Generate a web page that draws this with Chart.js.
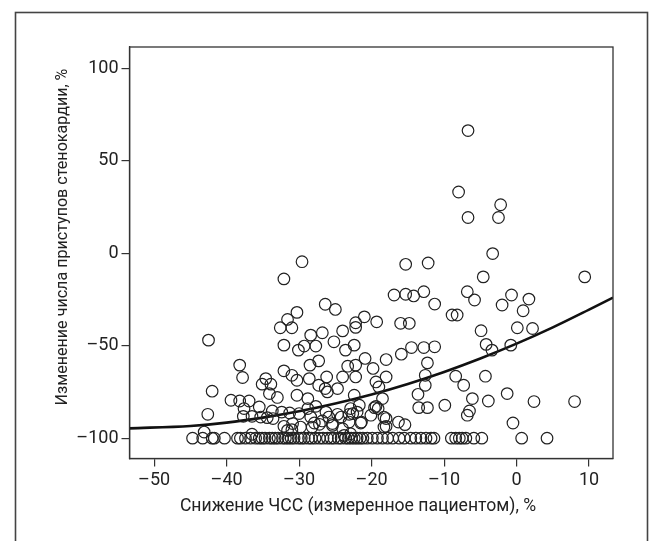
<!DOCTYPE html>
<html>
<head>
<meta charset="utf-8">
<script src="https://cdn.jsdelivr.net/npm/chart.js@4/dist/chart.umd.min.js"></script>
<style>
    body { margin: 0; background: #fff; }
    canvas { display: block; }
</style>
</head>
<body>
<canvas id="hrChart" width="665" height="541"></canvas>
<script>
// tick labels
const xTicks = [-50, -40, -30, -20, -10, 0, 10];
const yTicks = [-100, -50, 0, 50, 100];

const xTitle = "Снижение ЧСС (измеренное пациентом), %";
const yTitle = "Изменение числа приступов стенокардии, %";

// patients above the floor (change in angina attacks > -100 %)
const pointX = [
    -6.7, -8.0, -2.2, -6.7, -2.5, -3.3, -15.3, -12.2, -4.6, 9.4,
    -16.9, -15.3, -14.2, -12.8, -6.8, -5.8, -0.7, 1.7, -11.3, -2.0,
    0.9, -8.9, -8.2, -21.0, -22.2, -22.2, -19.3, -16.0, -14.8, -4.9,
    0.1, 2.2, -22.4, -14.5, -12.8, -11.3, -15.9, -4.2, -3.4, -0.8,
    -20.9, -18.0, -22.2, -12.3, -19.8, -22.2, -18.0, -12.6, -8.4, -4.3,
    -19.4, -7.3, -12.6, -19.0, -13.6, -1.3, -22.4, -18.5, -6.1, -3.9,
    2.4, 8.0, -21.7, -19.4, -19.1, -19.6, -13.5, -12.3, -9.9, -6.5,
    -6.8, -22.6, -20.1, -18.0, -21.5, -16.3, -15.4, -18.0, -0.5,
    -29.6, -32.1, -26.4, -25.0, -30.3, -31.6, -32.6, -31.0, -24.0, -26.8,
    -28.4, -42.5, -25.2, -32.1, -27.7, -29.3, -30.1, -23.6, -27.3, -28.5,
    -23.3, -38.2, -37.8, -32.1, -31.0, -30.3, -34.6, -33.9, -35.1, -28.6,
    -27.3, -26.2, -26.4, -26.1, -24.7, -24.0, -34.1, -33.0, -30.3, -28.8,
    -42.0, -39.4, -38.2, -36.9, -37.6, -37.7, -35.5, -42.6, -36.5, -35.3,
    -33.7, -32.4, -33.6, -34.4, -31.3, -30.0, -28.8, -27.7, -26.3, -28.4,
    -26.8, -25.4, -30.9, -31.0, -31.6, -32.1, -29.8, -27.9, -43.1, -36.5,
    -22.9, -23.1, -23.1, -24.2, -23.8,
    -24.7, -25.9, -22.0, -21.4, -18.3, -18.3, -27.2, -25.4, -24.0, -22.9, -28.2
];
const pointY = [
    66.3, 33.1, 26.2, 19.3, 19.3, -0.2, -6.0, -5.3, -12.8, -12.8,
    -22.6, -22.2, -23.1, -20.8, -20.8, -25.3, -22.6, -24.8, -27.5, -28.0,
    -31.1, -33.4, -33.4, -34.4, -37.6, -40.1, -37.1, -37.9, -37.9, -41.9,
    -40.3, -40.7, -49.7, -51.0, -51.0, -50.6, -54.6, -49.3, -52.4, -49.7,
    -56.9, -57.5, -60.5, -59.3, -62.3, -66.9, -66.9, -66.0, -66.5, -66.5,
    -69.6, -71.4, -71.4, -72.3, -76.3, -75.9, -76.8, -78.6, -78.6, -79.9,
    -80.2, -80.2, -82.2, -82.8, -84.0, -83.5, -83.5, -83.5, -82.2, -85.3,
    -87.6, -86.7, -87.6, -89.4, -91.8, -91.3, -92.7, -93.6, -91.8,
    -4.6, -13.9, -27.6, -30.4, -32.0, -35.8, -40.3, -40.3, -42.0, -43.0,
    -44.3, -47.0, -47.9, -49.7, -50.2, -50.2, -52.4, -52.4, -58.2, -60.5,
    -61.1, -60.5, -67.2, -63.6, -66.0, -68.7, -67.8, -70.8, -70.8, -67.8,
    -71.4, -66.9, -73.2, -75.0, -73.2, -66.9, -75.9, -78.0, -76.8, -78.6,
    -74.6, -79.5, -79.9, -79.9, -84.0, -88.2, -83.1, -87.1, -88.2, -88.6,
    -85.3, -85.9, -89.4, -88.9, -86.4, -86.7, -84.0, -82.8, -85.9, -88.6,
    -90.7, -93.1, -92.1, -95.4, -95.8, -93.6, -94.0, -91.8, -96.7, -97.9,
    -84.0, -87.1, -91.3, -88.6, -98.5,
    -87.1, -88.6, -85.9, -91.3, -88.6, -94.0, -92.5, -92.1, -94.9, -97.6, -94.0
];

// patients with attacks fully gone (-100 %)
const floorY = -100;
const floorX = [
    -44.7, -43.3, -42.0, -41.7, -40.3, -38.5, -38.1, -37.4, -36.7, -36.0,
    -35.5, -35.1, -34.7, -34.1, -33.7, -33.3, -32.9, -32.3, -31.9, -31.5,
    -31.1, -30.7, -30.1, -29.7, -29.3, -28.7, -28.3, -27.8, -27.2, -26.7,
    -26.1, -25.6, -25.2, -24.6, -24.2, -23.6, -23.2, -22.8, -22.4, -22.0,
    -21.6, -21.2, -20.6, -19.9, -19.2, -18.5, -17.8, -17.1, -16.2, -15.5,
    -14.6, -13.9, -13.2, -12.5, -11.8, -11.4, -9.0, -8.4, -7.9, -7.5,
    -7.0, -5.9, -4.8, 0.7, 4.2
];

// regression curve
const fitX = [-53.4, -45, -40, -35, -30, -25, -20, -15, -10, -5, 0, 5, 10, 13.3];
const fitY = [-94.7, -93.4, -91.6, -88.9, -85.5, -81.3, -76.4, -70.7, -64.2, -56.9, -48.9, -40.1, -30.5, -24.0];

const INK = "#222";
const FAMILY = "Roboto, 'Liberation Sans', Arial, sans-serif";

// size an axis title so it spans the same length as in the original
function fitSize(text, targetWidth) {
    const ctx = document.createElement("canvas").getContext("2d");
    ctx.font = "20px " + FAMILY;
    return Math.round(20 * targetWidth / ctx.measureText(text).width * 10) / 10;
}
const xTitleSize = fitSize(xTitle, 356);
const yTitleSize = fitSize(yTitle, 336);

const scatterData = pointX.map((x, i) => ({ x: x, y: pointY[i] }))
    .concat(floorX.map(x => ({ x: x, y: floorY })));
const fitData = fitX.map((x, i) => ({ x: x, y: fitY[i] }));

const dash = v => (v < 0 ? "\u2013" + Math.abs(v) : String(v));

// outer frame, full box around plot area and the axis titles
const framePlugin = {
    id: "frame",
    afterDraw(chart) {
        const ctx = chart.ctx;
        const a = chart.chartArea;
        ctx.save();
        ctx.strokeStyle = "#333";
        ctx.lineWidth = 1.3;
        ctx.strokeRect(a.left, a.top, a.right - a.left, a.bottom - a.top);
        ctx.lineWidth = 1.6;
        ctx.strokeStyle = "#444";
        ctx.strokeRect(15.5, 12.5, 632, 540);

        ctx.fillStyle = INK;
        ctx.textAlign = "center";
        ctx.textBaseline = "middle";
        ctx.font = xTitleSize + "px " + FAMILY;
        ctx.fillText(xTitle, 358, 507);
        ctx.font = yTitleSize + "px " + FAMILY;
        ctx.translate(63, 237);
        ctx.rotate(-Math.PI / 2);
        ctx.fillText(yTitle, 0, 0);
        ctx.restore();
    }
};

new Chart(document.getElementById("hrChart"), {
    type: "scatter",
    data: {
        datasets: [
            {
                label: "patients",
                data: scatterData,
                pointRadius: 5.8,
                pointHoverRadius: 5.8,
                pointBorderWidth: 1.2,
                borderColor: INK,
                backgroundColor: "rgba(0,0,0,0)"
            },
            {
                type: "line",
                label: "fit",
                data: fitData,
                borderColor: "#111",
                borderWidth: 2.6,
                pointRadius: 0,
                fill: false,
                cubicInterpolationMode: "monotone"
            }
        ]
    },
    options: {
        responsive: false,
        animation: false,
        events: [],
        layout: { padding: { left: 0, top: 47, right: 52, bottom: 0 } },
        plugins: {
            legend: { display: false },
            tooltip: { enabled: false }
        },
        scales: {
            x: {
                type: "linear",
                min: -53.4,
                max: 13.3,
                afterBuildTicks: s => { s.ticks = xTicks.map(v => ({ value: v })); },
                afterFit: s => { s.height = 82.5; },
                grid: { drawOnChartArea: false, drawTicks: true, tickLength: 8, color: "#333", lineWidth: 1.2 },
                border: { display: true, color: "#333", width: 1.3 },
                ticks: {
                    color: INK,
                    padding: 3,
                    maxRotation: 0,
                    font: { family: FAMILY, size: 18 },
                    callback: v => dash(v)
                }
            },
            y: {
                type: "linear",
                min: -111,
                max: 111.5,
                afterBuildTicks: s => { s.ticks = yTicks.map(v => ({ value: v })); },
                afterFit: s => { s.width = 129.5; },
                grid: { drawOnChartArea: false, drawTicks: true, tickLength: 8, color: "#333", lineWidth: 1.2 },
                border: { display: true, color: "#333", width: 1.3 },
                ticks: {
                    color: INK,
                    padding: 3,
                    font: { family: FAMILY, size: 18 },
                    callback: v => dash(v)
                }
            }
        }
    },
    plugins: [framePlugin]
});
</script>
</body>
</html>
